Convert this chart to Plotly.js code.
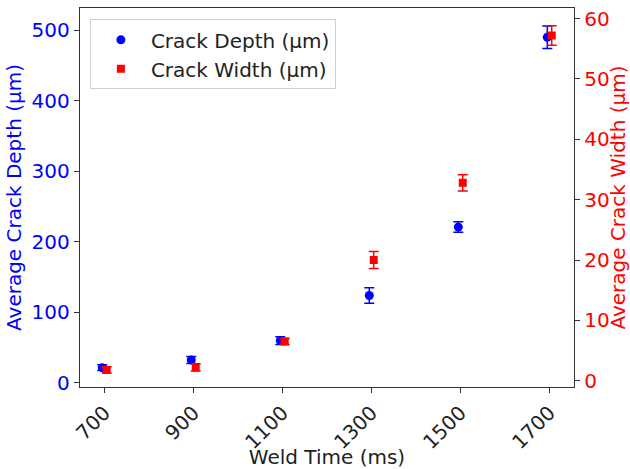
<!DOCTYPE html>
<html>
<head>
<meta charset="utf-8">
<script src="https://cdn.plot.ly/plotly-3.0.1.min.js"></script>
<style>html,body{margin:0;padding:0;background:#fff;}#chart{width:630px;height:469px;}</style>
</head>
<body>
<div id="chart"></div>
<script>
// Data
const weldTime = [700, 900, 1100, 1300, 1500, 1700];
const tickLabels = ["700", "900", "1100", "1300", "1500", "1700"];
const crackDepth = [21.7, 32.6, 60, 124, 221, 490];
const crackDepthErr = [4, 5, 5.5, 11, 7.5, 16];
const crackWidth = [1.8, 2.2, 6.5, 20.0, 32.8, 57.2];
const crackWidthErr = [0.5, 0.6, 0.5, 1.4, 1.35, 1.6];

const shift = 5; // small horizontal dodge between the two series (ms)
const font = "DejaVu Sans, Liberation Sans, sans-serif";
const fs = 20;

const traces = [
  {
    type: "scatter", mode: "markers", name: "Crack Depth (µm)",
    x: weldTime.map(t => t - shift), y: crackDepth,
    error_y: {type: "data", array: crackDepthErr, visible: true, color: "#0000ff", thickness: 1.5, width: 5},
    marker: {color: "#0000ff", size: 9, symbol: "circle"},
    yaxis: "y"
  },
  {
    type: "scatter", mode: "markers", name: "Crack Width (µm)",
    x: weldTime.map(t => t + shift), y: crackWidth,
    error_y: {type: "data", array: crackWidthErr, visible: true, color: "#ff0000", thickness: 1.5, width: 5},
    marker: {color: "#ff0000", size: 8, symbol: "square"},
    yaxis: "y2"
  }
];

const layout = {
  width: 630, height: 469,
  margin: {l: 80, r: 56, t: 8, b: 82},
  paper_bgcolor: "#fff", plot_bgcolor: "#fff",
  font: {family: font, size: fs, color: "#222"},
  showlegend: true,
  legend: {x: 0.02, y: 0.97, xanchor: "left", yanchor: "top", bgcolor: "rgba(255,255,255,0.9)",
           bordercolor: "#d0d0d0", borderwidth: 1, itemwidth: 50,
           font: {family: font, size: fs, color: "#222"}},
  xaxis: {
    range: [645, 1755], tickmode: "array", tickvals: weldTime, ticktext: tickLabels,
    tickangle: -45, ticks: "outside", ticklen: 5, tickcolor: "#333",
    showgrid: false, zeroline: false, showline: true, linecolor: "#333", linewidth: 1.2, mirror: true,
    tickfont: {family: font, size: fs, color: "#222"},
    title: {text: "Weld Time (ms)", font: {family: font, size: fs, color: "#222"}, standoff: 2}
  },
  yaxis: {
    range: [-5.7, 531.5], tickvals: [0, 100, 200, 300, 400, 500],
    ticks: "outside", ticklen: 5, tickcolor: "#333",
    showgrid: false, zeroline: false, showline: true, linecolor: "#333", linewidth: 1.2, mirror: true,
    tickfont: {family: font, size: fs, color: "#0000ff"},
    title: {text: "Average Crack Depth (µm)", font: {family: font, size: fs, color: "#0000ff"}, standoff: 4}
  },
  yaxis2: {
    overlaying: "y", side: "right",
    range: [-1.04, 61.76], tickvals: [0, 10, 20, 30, 40, 50, 60],
    ticks: "outside", ticklen: 5, tickcolor: "#333",
    showgrid: false, zeroline: false, showline: true, linecolor: "#333", linewidth: 1.2,
    tickfont: {family: font, size: fs, color: "#ff0000"},
    title: {text: "Average Crack Width (µm)", font: {family: font, size: fs, color: "#ff0000"}, standoff: 4}
  }
};

Plotly.newPlot("chart", traces, layout, {displayModeBar: false, staticPlot: true});
</script>
</body>
</html>
